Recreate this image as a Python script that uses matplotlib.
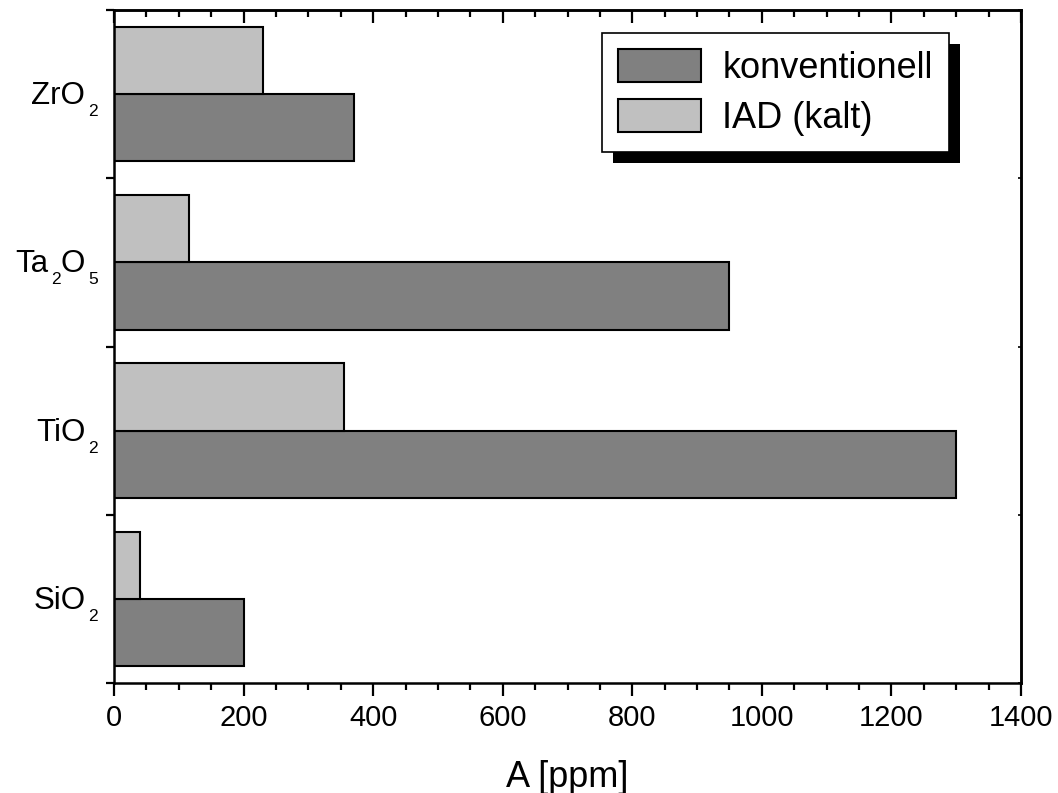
import matplotlib
matplotlib.use("Agg")
import matplotlib.pyplot as plt
from matplotlib.patches import Rectangle
from matplotlib.legend_handler import HandlerPatch
from matplotlib.transforms import blended_transform_factory, offset_copy
from matplotlib.ticker import MultipleLocator, FixedLocator, NullFormatter

plt.rcParams['font.family'] = ['Liberation Sans', 'DejaVu Sans']

# chemical formulas as (text, is_subscript) pieces
materials = [
    [('SiO', False), ('2', True)],
    [('TiO', False), ('2', True)],
    [('Ta', False), ('2', True), ('O', False), ('5', True)],
    [('ZrO', False), ('2', True)],
]
konventionell = [200, 1300, 950, 370]
iad_kalt = [40, 355, 115, 230]
series_labels = ['konventionell', 'IAD (kalt)']

dark = '#808080'
light = '#c0c0c0'
bar_h = 0.4

fig = plt.figure(figsize=(10.58, 7.93), dpi=100)
ax = fig.add_axes([114 / 1058, 1 - 683 / 793, (1021 - 114) / 1058, (683 - 10) / 793])

pos = list(range(len(materials)))
b1 = ax.barh([p - bar_h / 2 for p in pos], konventionell, height=bar_h,
             color=dark, edgecolor='black', linewidth=1.5, label=series_labels[0])
b2 = ax.barh([p + bar_h / 2 for p in pos], iad_kalt, height=bar_h,
             color=light, edgecolor='black', linewidth=1.5, label=series_labels[1])

ax.set_xlim(0, 1400)
ax.set_ylim(-0.5, len(materials) - 0.5)

for s in ax.spines.values():
    s.set_linewidth(1.8)

# x axis: bottom ticks outward, top ticks inward
ax.xaxis.set_major_locator(MultipleLocator(200))
ax.xaxis.set_minor_locator(MultipleLocator(50))
ax.tick_params(axis='x', which='major', direction='out', length=9, width=1.6,
               labelsize=21, pad=6, top=False)
ax.tick_params(axis='x', which='minor', direction='out', length=5, width=1.6, top=False)

top = ax.secondary_xaxis('top')
top.xaxis.set_major_locator(MultipleLocator(200))
top.xaxis.set_minor_locator(MultipleLocator(50))
top.tick_params(axis='x', which='major', direction='in', length=9, width=1.6, labeltop=False)
top.tick_params(axis='x', which='minor', direction='in', length=5, width=1.6)
top.spines['top'].set_linewidth(1.8)

# y axis: ticks on the group boundaries
bounds = [p - 0.5 for p in pos] + [len(pos) - 0.5]
ax.yaxis.set_major_locator(FixedLocator(bounds))
ax.yaxis.set_major_formatter(NullFormatter())
ax.tick_params(axis='y', which='major', direction='out', length=6, width=1.6, right=False)

right = ax.secondary_yaxis('right')
right.yaxis.set_major_locator(FixedLocator(bounds))
right.yaxis.set_major_formatter(NullFormatter())
right.tick_params(axis='y', direction='in', length=2, width=1.2)
right.spines['right'].set_linewidth(1.8)

ax.set_xlabel('A [ppm]', fontsize=26, labelpad=20)


def inset_patch(legend, orig_handle, xdescent, ydescent, width, height, fontsize):
    # swatch indented a little from the frame's left edge
    shift = 6
    return Rectangle((-xdescent + shift, -ydescent), width - shift, height)


leg = ax.legend(handles=[b1, b2], loc='upper left',
                bbox_to_anchor=((602 - 114) / 907, (683 - 33) / 673),
                fontsize=26, frameon=True, fancybox=False, edgecolor='black',
                framealpha=1, handlelength=2.28, handleheight=1.03,
                handletextpad=0.6, labelspacing=0.36, borderpad=0.45, borderaxespad=0,
                handler_map={b1[0].__class__: HandlerPatch(patch_func=inset_patch)})
leg.get_frame().set_linewidth(1.2)
leg.set_zorder(10)

# category labels built from normal text and lowered subscripts
main_size, sub_size = 22.5, 12.5
base_dy, sub_dy = -10, -22   # baseline offsets from the group centre, in pixels
label_right = -16            # right edge relative to the left spine, in pixels
ytrans = blended_transform_factory(ax.transAxes, ax.transData)
label_texts = []
for p, pieces in zip(pos, materials):
    arts = []
    for txt, sub in pieces:
        t = ax.text(0, p, txt, fontsize=sub_size if sub else main_size,
                    ha='left', va='baseline', transform=ytrans, clip_on=False)
        arts.append((t, sub))
    label_texts.append((p, arts))

fig.canvas.draw()
renderer = fig.canvas.get_renderer()
for p, arts in label_texts:
    widths = []
    for t, sub in arts:
        w = t.get_window_extent(renderer).width
        widths.append(w + (3 if sub else 0))
    x = label_right - sum(widths)
    for (t, sub), w in zip(arts, widths):
        dx = x + (3 if sub else 0)
        t.set_transform(offset_copy(ytrans, fig=fig, x=dx, y=sub_dy if sub else base_dy,
                                    units='dots'))
        x += w

bb = leg.get_frame().get_window_extent(renderer)
shadow = Rectangle((bb.x0 + 11, bb.y0 - 11), bb.width, bb.height, transform=None,
                   facecolor='black', edgecolor='none', zorder=9, clip_on=False)
ax.add_artist(shadow)

fig.savefig('out.png', dpi=100)
